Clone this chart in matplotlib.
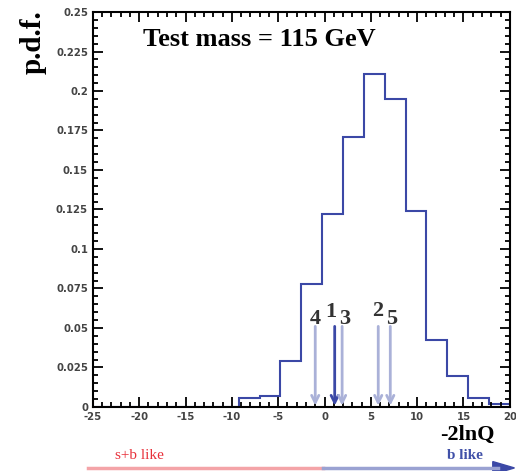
import numpy as np
import matplotlib.pyplot as plt
from matplotlib.ticker import MultipleLocator, FixedFormatter, FixedLocator
from matplotlib.lines import Line2D
from matplotlib.patches import Polygon

plt.rcParams['axes.unicode_minus'] = False

# histogram of -2lnQ, 20 bins from -25 to 20
bin_edges = np.linspace(-25, 20, 21)
pdf = [0, 0, 0, 0, 0, 0, 0, 0.0055, 0.007, 0.029, 0.078, 0.122,
       0.171, 0.211, 0.195, 0.124, 0.0424, 0.0198, 0.0059, 0.0017]

# observed candidate values
cand_x = [1.1, 5.8, 1.9, -1.0, 7.1]
cand_lbl = ['1', '2', '3', '4', '5']
cand_lbl_y = [0.060, 0.0605, 0.0555, 0.0555, 0.0555]
cand_lbl_dx = [-0.4, -0.1, 0.25, 0.0, 0.1]

yticks = [0, 0.025, 0.05, 0.075, 0.1, 0.125, 0.15, 0.175, 0.2, 0.225, 0.25]
ylabels = ['0', '0.025', '0.05', '0.075', '0.1', '0.125', '0.15', '0.175', '0.2', '0.225', '0.25']
xticks = [-25, -20, -15, -10, -5, 0, 5, 10, 15, 20]

blue = '#3b48a6'
light = '#aab1d8'

fig = plt.figure(figsize=(5.16, 4.71), dpi=100)
ax = fig.add_axes([0.180, 0.136, 0.808, 0.8385])

ax.stairs(pdf, bin_edges, color=blue, linewidth=1.5)

for i in range(len(cand_x)):
    col = blue if cand_lbl[i] == '1' else light
    ax.annotate('', xy=(cand_x[i], 0.0008), xytext=(cand_x[i], 0.051),
                arrowprops=dict(arrowstyle='->', color=col, lw=2.0,
                                mutation_scale=13, shrinkA=0, shrinkB=0))
    ax.text(cand_x[i] + cand_lbl_dx[i], cand_lbl_y[i], cand_lbl[i],
            ha='center', va='center', fontsize=16, fontweight='bold',
            family='Liberation Serif', color='#333333')

ax.set_xlim(-25, 20)
ax.set_ylim(0, 0.25)
ax.yaxis.set_major_locator(FixedLocator(yticks))
ax.yaxis.set_major_formatter(FixedFormatter(ylabels))
ax.yaxis.set_minor_locator(MultipleLocator(0.005))
ax.xaxis.set_major_locator(FixedLocator(xticks))
ax.xaxis.set_minor_locator(MultipleLocator(1))
ax.tick_params(which='both', direction='in', top=True, right=True, width=1.3,
               labelsize=7.3, labelcolor='#444444')
ax.tick_params(which='major', length=7)
ax.tick_params(which='minor', length=3.5)
ax.tick_params(axis='x', pad=4)
for lab in ax.get_xticklabels() + ax.get_yticklabels():
    lab.set_fontweight('bold')
for s in ax.spines.values():
    s.set_linewidth(1.5)

ax.text(0.12, 0.93, 'Test mass = 115 GeV', transform=ax.transAxes, va='center',
        fontsize=19, fontweight='bold', family='Liberation Serif')

fig.text(0.065, 0.91, 'p.d.f.', rotation=90, ha='center', va='center',
         fontsize=21, fontweight='bold', family='Liberation Serif')
fig.text(0.905, 0.076, '-2lnQ', ha='center', va='center',
         fontsize=16, fontweight='bold', family='Liberation Serif')
fig.text(0.271, 0.032, 's+b like', ha='center', va='center',
         fontsize=11, color='#e8303a', family='Liberation Serif')
fig.text(0.902, 0.032, 'b like', ha='center', va='center',
         fontsize=11, color='#4050a8', fontweight='bold', family='Liberation Serif')

# s+b like -> b like bar under the axis
fig.add_artist(Line2D([0.171, 0.625], [0.0065, 0.0065], color='#f4a4a8', lw=2.5))
fig.add_artist(Line2D([0.625, 0.965], [0.0065, 0.0065], color='#9aa2d2', lw=2.5))
fig.add_artist(Polygon([[0.955, 0.020], [0.997, 0.0065], [0.955, -0.007]],
                       closed=True, color=blue, transform=fig.transFigure))

fig.savefig('out.png', dpi=100)
